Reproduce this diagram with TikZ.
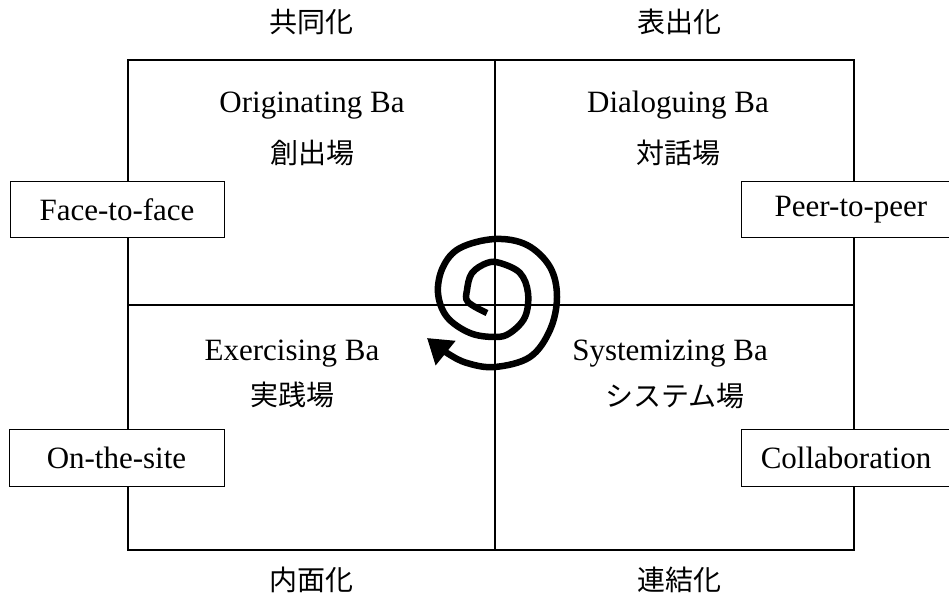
\documentclass[tikz,border=0pt]{standalone}
\usepackage{fontspec}
\setmainfont{Liberation Serif}
\newfontfamily\cjk{Noto Sans CJK JP}
\usetikzlibrary{arrows.meta}
\tikzset{
  lat/.style={font=\fontsize{31}{36}\selectfont, inner sep=0pt},
  jp/.style={font=\cjk\fontsize{28}{32}\selectfont, inner sep=0pt},
  tagbox/.style={draw, line width=1pt, fill=white, font=\fontsize{31}{36}\selectfont, inner sep=0pt},
  frame/.style={line width=1.3pt},
  spiral/.style={line width=6.5pt, -{Triangle[length=24pt,width=30pt]}}
}
\begin{document}
\begin{tikzpicture}[x=1pt,y=-1pt]
\useasboundingbox (0,0) rectangle (949,601);
% frame
\coordinate (tl) at (128,60);
\coordinate (br) at (854,550);
\coordinate (mt) at (495,60);
\coordinate (mb) at (495,550);
\coordinate (ml) at (128,305);
\coordinate (mr) at (854,305);
\draw[frame] (tl) rectangle (br);
\draw[frame] (mt) -- (mb);
\draw[frame] (ml) -- (mr);
% spiral
\draw[spiral] plot[smooth, tension=0.6] coordinates {
 (487,313) (468,302) (467,290) (472,273) (487,263) (500,263) (520,273) (528,293)
 (525,317) (510,333) (495,337) (470,333) (447,317) (438,293) (443,267) (460,248)
 (495,239) (527,245) (550,267) (557,297) (550,330) (530,357) (495,367) (467,363)
 (447,353) (427,338)};
% corner labels
\node[jp] (soc) at (311,22) {共同化};
\node[jp] (ext) at (679,22) {表出化};
\node[jp] (int) at (311,580) {内面化};
\node[jp] (com) at (679,580) {連結化};
% quadrant titles
\node[lat, anchor=base] (orig) at (312,113) {Originating Ba};
\node[jp] (origj) at (312,153) {創出場};
\node[lat, anchor=base] (dial) at (678,113) {Dialoguing Ba};
\node[jp] (dialj) at (678,153) {対話場};
\node[lat, anchor=base] (exer) at (292,360) {Exercising Ba};
\node[jp] (exerj) at (292,395) {実践場};
\node[lat, anchor=base] (syst) at (670,360) {Systemizing Ba};
\node[jp] (systj) at (675,396) {システム場};
% side boxes
\node[tagbox, minimum width=214pt, minimum height=56pt] (f2f) at (117,210) {Face-to-face};
\node[tagbox, minimum width=215pt, minimum height=57pt] (site) at (116.5,457.5) {On-the-site};
\node[tagbox, minimum width=210pt, minimum height=56pt] (p2p) at (846,210) {\hspace*{10pt}Peer-to-peer};
\node[tagbox, minimum width=210pt, minimum height=57pt] (coll) at (846,457.5) {Collaboration};
\end{tikzpicture}
\end{document}
